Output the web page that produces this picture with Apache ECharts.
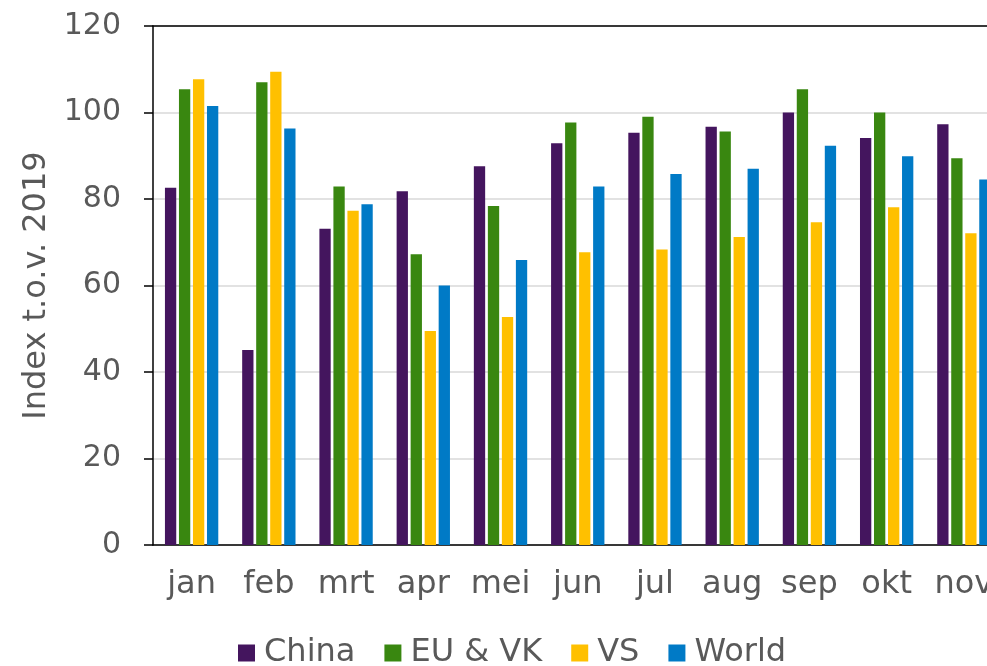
<!DOCTYPE html>
<html>
<head>
<meta charset="utf-8">
<script src="https://cdn.jsdelivr.net/npm/echarts@6/dist/echarts.min.js"></script>
<style>
html,body{margin:0;padding:0;background:#fff;}
#chart{width:987px;height:666px;}
</style>
</head>
<body>
<div id="chart"></div>
<script>
const categories = ['jan','feb','mrt','apr','mei','jun','jul','aug','sep','okt','nov'];
const china = [82.6, 45.1, 73.1, 81.8, 87.6, 92.9, 95.3, 96.7, 100.0, 94.1, 97.3];
const euvk  = [105.4, 107.0, 82.9, 67.2, 78.4, 97.7, 99.0, 95.6, 105.4, 100.0, 89.4];
const vs    = [107.7, 109.4, 77.3, 49.5, 52.7, 67.7, 68.3, 71.2, 74.6, 78.1, 72.1];
const world = [101.5, 96.3, 78.8, 60.0, 65.9, 82.9, 85.8, 87.0, 92.3, 89.9, 84.5];
const yTicks = [0, 20, 40, 60, 80, 100, 120];

const seriesNames = ['China', 'EU & VK', 'VS', 'World'];
const seriesData = [china, euvk, vs, world];
const colors = ['#44155E', '#398710', '#FFC000', '#007AC6'];

const font = 'DejaVu Sans, Verdana, sans-serif';
const chart = echarts.init(document.getElementById('chart'), null, {renderer: 'canvas'});
chart.setOption({
  animation: false,
  backgroundColor: '#fff',
  grid: {
    left: 153, top: 26, bottom: 121, width: 849.5,
    outerBoundsMode: 'none',
    containLabel: false
  },
  legend: {
    data: seriesNames,
    bottom: -8,
    left: 233,
    itemWidth: 17, itemHeight: 17, itemGap: 29,
    icon: 'rect',
    textStyle: {fontFamily: font, fontSize: 32, color: '#595959', padding: [0, 0, 0, 4]}
  },
  xAxis: [{
    type: 'category',
    data: categories,
    axisLine: {lineStyle: {color: '#000', width: 1.5}},
    axisTick: {show: false},
    axisLabel: {fontFamily: font, fontSize: 32, color: '#595959', margin: 24, interval: 0, hideOverlap: false}
  }, {
    type: 'category',
    data: categories,
    position: 'top',
    axisLine: {show: true, lineStyle: {color: '#000', width: 1.5}},
    axisTick: {show: false},
    axisLabel: {show: false},
    splitLine: {show: false}
  }],
  yAxis: {
    type: 'value',
    min: yTicks[0], max: yTicks[yTicks.length - 1], interval: 20,
    name: 'Index t.o.v. 2019',
    nameLocation: 'middle',
    nameGap: 98,
    nameTextStyle: {fontFamily: font, fontSize: 32, color: '#595959'},
    axisLine: {show: true, lineStyle: {color: '#000', width: 1.5}},
    axisTick: {show: true, length: 9, lineStyle: {color: '#000', width: 1.5}},
    axisLabel: {fontFamily: font, fontSize: 30, color: '#595959', margin: 32},
    splitLine: {lineStyle: {color: '#d9d9d9', width: 1.5}}
  },
  series: seriesNames.map((n, i) => ({
    name: n,
    type: 'bar',
    data: seriesData[i],
    barWidth: 11.3,
    barGap: '24%',
    itemStyle: {color: colors[i]}
  }))
});
</script>
</body>
</html>
